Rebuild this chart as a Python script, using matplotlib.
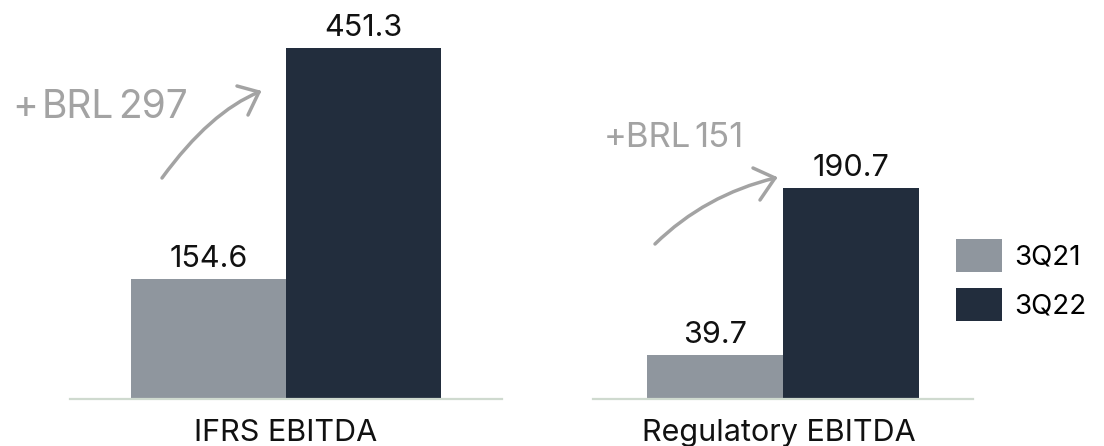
import matplotlib
matplotlib.use("Agg")
import matplotlib.pyplot as plt
from matplotlib.path import Path
from matplotlib.patches import PathPatch, Patch

# --- data -------------------------------------------------------------
panels = ["IFRS EBITDA", "Regulatory EBITDA"]
periods = ["3Q21", "3Q22"]
ifrs_values = [154.6, 451.3]
regulatory_values = [39.7, 190.7]
growth_labels = ["+ BRL 297", "+BRL 151"]

# --- style ------------------------------------------------------------
plt.rcParams["font.family"] = ["Inter", "DejaVu Sans"]
colors = ["#8f969e", "#222d3d"]
accent = "#a3a3a3"
axis_color = "#cfdacf"
ink = "#111111"

W, H = 1104, 446
fig = plt.figure(figsize=(W / 100, H / 100), dpi=100)
renderer = fig.canvas.get_renderer()


def add_px_axes(x0, x1, y_base, y_top):
    """Axes placed in pixel units measured from the top-left corner."""
    return fig.add_axes([x0 / W, (H - y_base) / H, (x1 - x0) / W, (y_base - y_top) / H])


def draw_panel(ax, values, title, px_per_unit, bar_px, title_shift=0):
    x = [0, 1]
    bars = ax.bar(x, values, width=1.0, align="edge", color=colors, linewidth=0)
    bbox = ax.get_position()
    ax_w = bbox.width * W
    ax_h = bbox.height * H
    half = ax_w / bar_px / 2
    ax.set_xlim(1 - half, 1 + half)
    ax.set_ylim(0, ax_h / px_per_unit)
    for s in ["top", "right", "left"]:
        ax.spines[s].set_visible(False)
    ax.spines["bottom"].set_color(axis_color)
    ax.spines["bottom"].set_linewidth(1.6)
    ax.set_xticks([])
    ax.set_yticks([])
    for xi, v in zip(x, values):
        ax.annotate(f"{v:.1f}", (xi + 0.5, v), xytext=(0, 12), textcoords="offset pixels",
                    ha="center", va="baseline", fontsize=22, color=ink)
    ax.annotate(title, (1, 0), xytext=(title_shift, -42), textcoords="offset pixels",
                ha="center", va="baseline", fontsize=22, color=ink)
    return bars


ax1 = add_px_axes(70, 502, 399, 0)
bars = draw_panel(ax1, ifrs_values, panels[0], 0.7775, 155)
ax2 = add_px_axes(593, 973, 399, 0)
draw_panel(ax2, regulatory_values, panels[1], 1.106, 136, title_shift=-4)


def tight_text(x_px, baseline_px, label, gap_px, **kw):
    """Write a label word by word with a narrow word gap (pixel units, top-left origin)."""
    x = x_px
    for word in label.split(" "):
        t = fig.text(x / W, 1 - baseline_px / H, word, ha="left", va="baseline", **kw)
        x += t.get_window_extent(renderer).width + gap_px


def sketch_arrow(p0, ctrl, p1, head_a, head_b, lw=2.5):
    """Hand-drawn style curved arrow in figure pixel coordinates (top-left origin)."""
    def conv(p):
        return (p[0] / W, 1 - p[1] / H)
    path = Path([conv(p0), conv(ctrl), conv(p1)], [Path.MOVETO, Path.CURVE3, Path.CURVE3])
    fig.add_artist(PathPatch(path, transform=fig.transFigure, fill=False,
                             edgecolor=accent, lw=lw, capstyle="round"))
    for h in (head_a, head_b):
        hp = Path([conv(h), conv(p1)], [Path.MOVETO, Path.LINETO])
        fig.add_artist(PathPatch(hp, transform=fig.transFigure, fill=False,
                                 edgecolor=accent, lw=lw, capstyle="round"))


# growth annotations
tight_text(12, 118, growth_labels[0], 4, fontsize=28, color=accent)
sketch_arrow((162, 178), (210, 112), (259, 92), (237, 86), (248, 115))

tight_text(604, 147, growth_labels[1], 3, fontsize=25, color=accent)
sketch_arrow((655, 244), (705, 195), (775, 178), (753, 168), (760, 200))

# legend
handles = [Patch(facecolor=c, edgecolor="none") for c in colors]
fig.legend(handles, periods, loc="upper left", bbox_to_anchor=(948 / W, 1 - 231 / H),
           frameon=False, fontsize=20, handlelength=1.65, handleheight=1.42,
           handletextpad=0.45, labelspacing=0.6, borderaxespad=0, borderpad=0.3)

fig.savefig("out.png", dpi=100)
